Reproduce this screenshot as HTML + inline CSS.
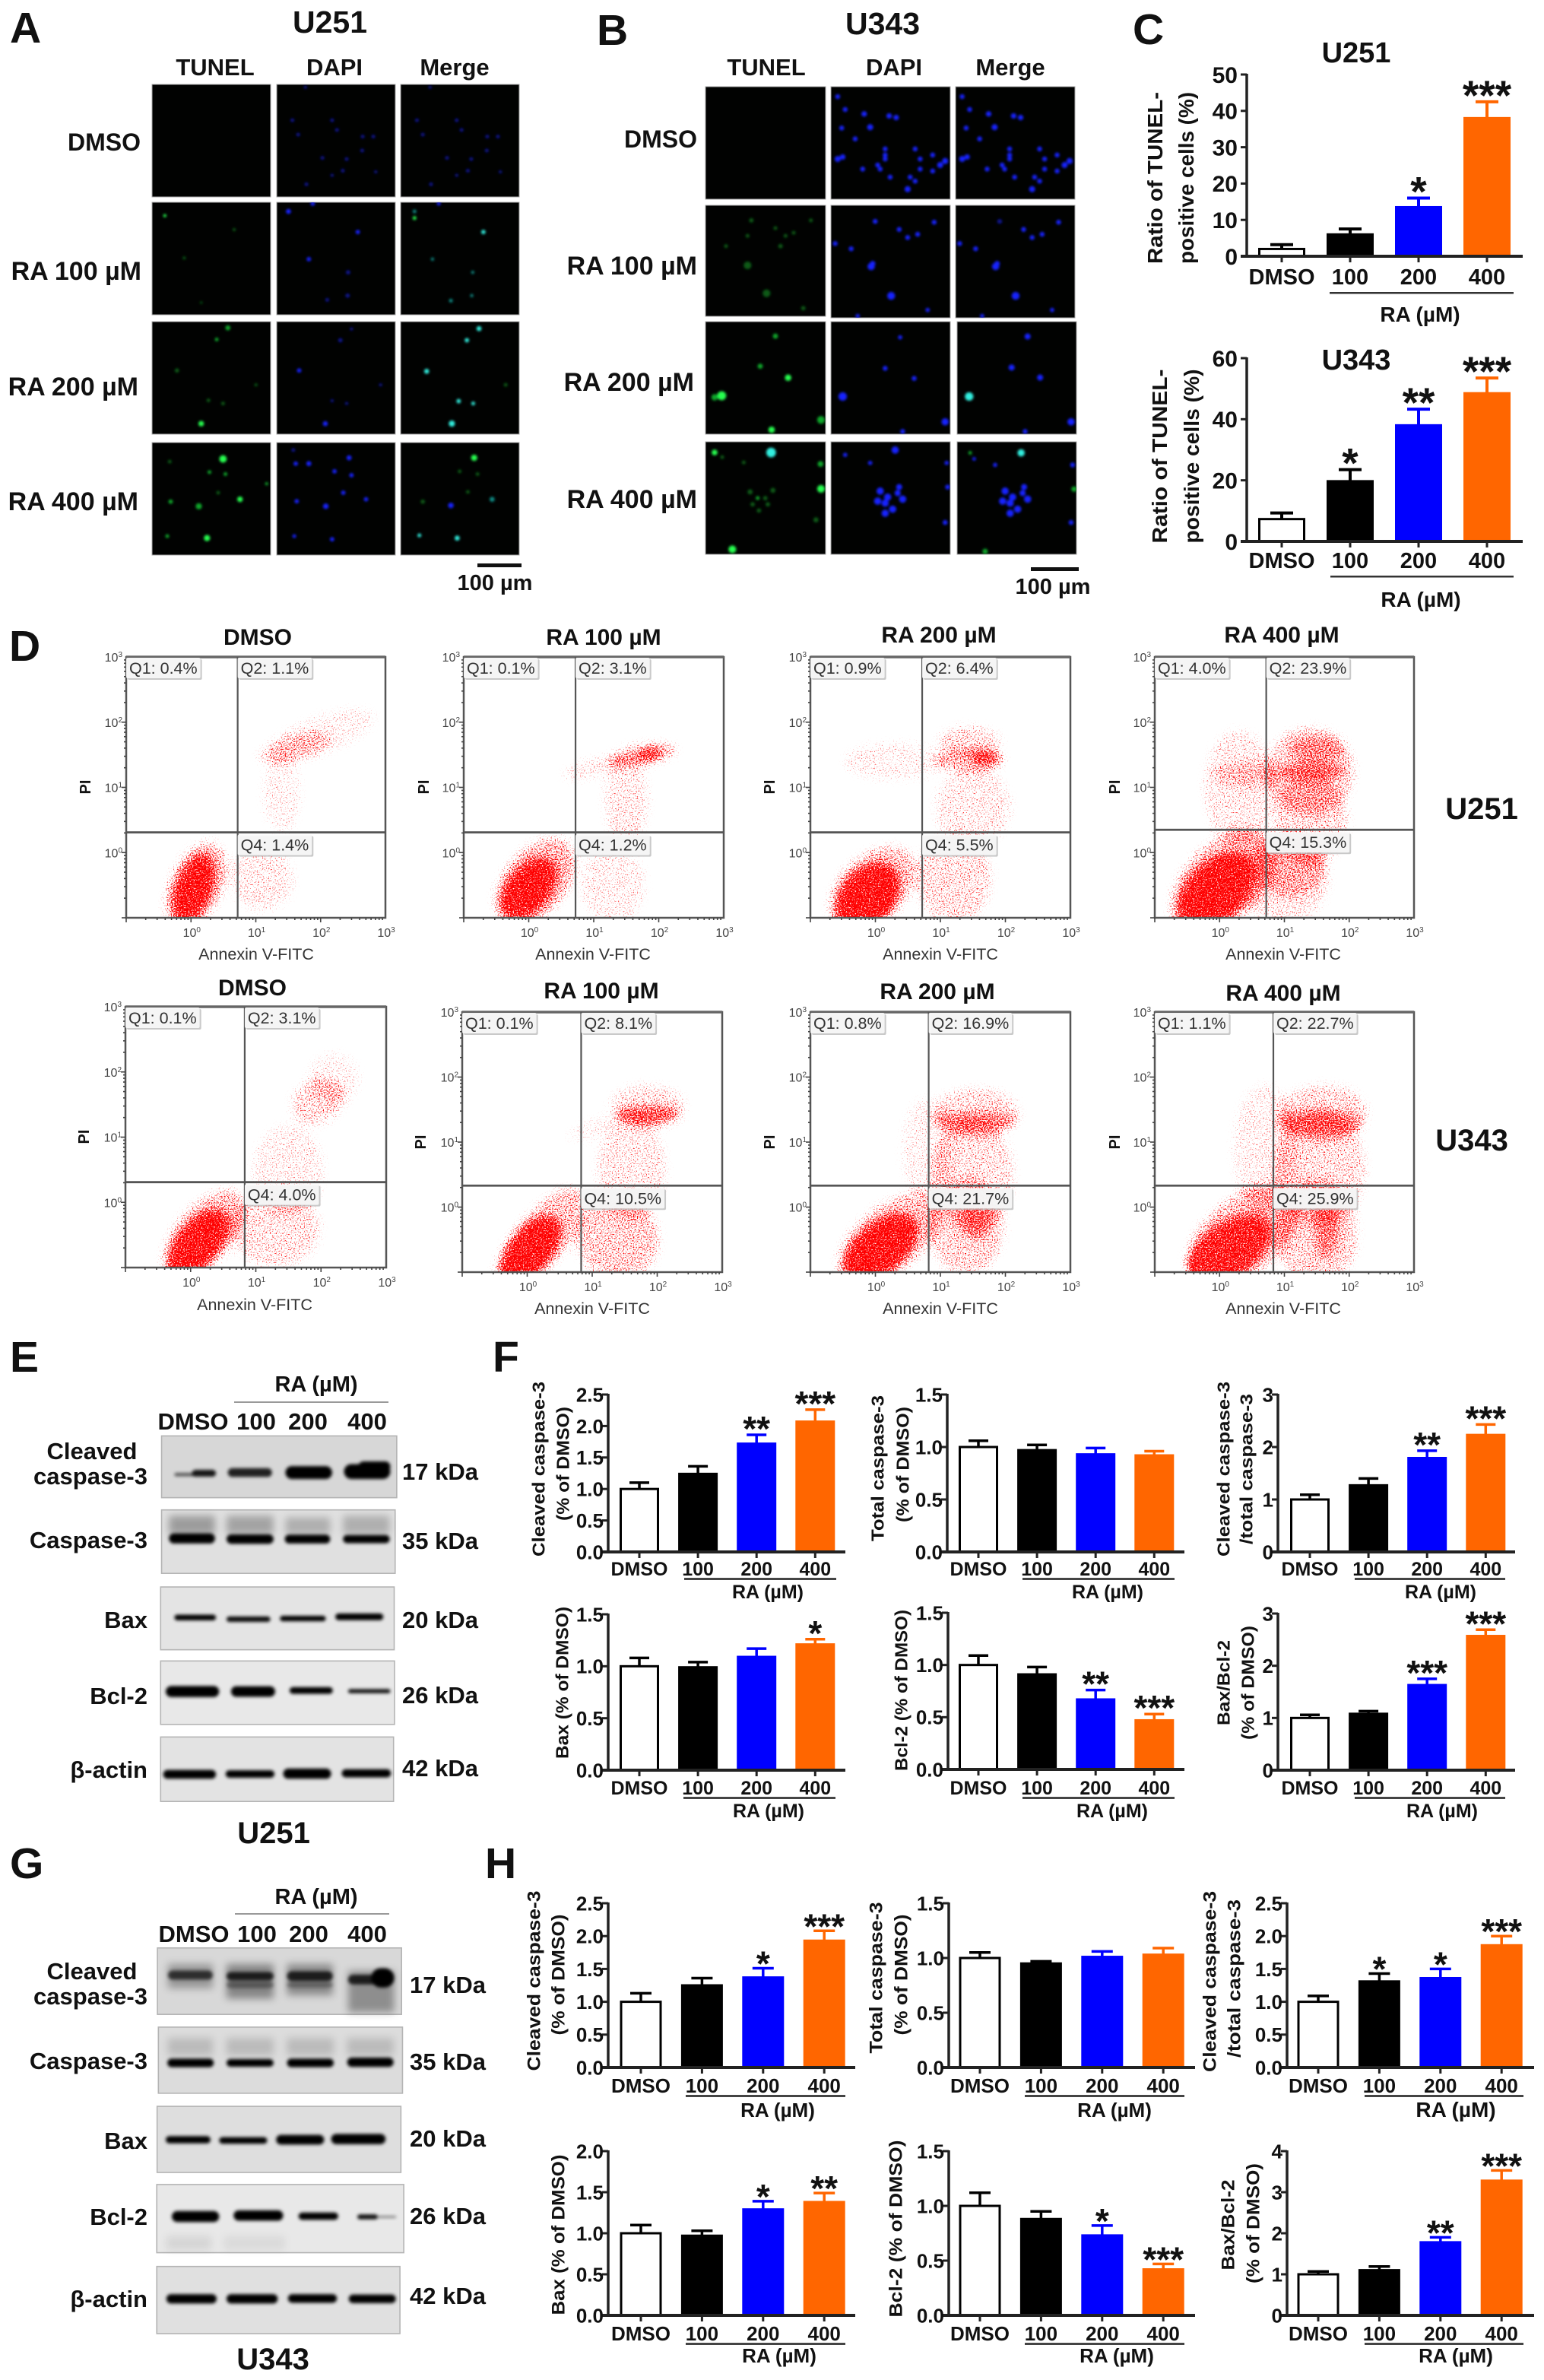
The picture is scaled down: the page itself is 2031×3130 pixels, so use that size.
<!DOCTYPE html>
<html lang="en">
<head>
<meta charset="utf-8">
<title>RA induced apoptosis figure</title>
<style>
html,body{margin:0;padding:0;background:#fff;}
svg{display:block;}
text{font-family:"Liberation Sans",Arial,sans-serif;font-weight:bold;fill:#111;}
.rt{text-anchor:end;}
.mid{text-anchor:middle;}
.gray{font-weight:normal;fill:#333;}
</style>
</head>
<body>
<svg id="figure" xmlns="http://www.w3.org/2000/svg" width="2031" height="3130" viewBox="0 0 2031 3130">
<defs>
<filter id="speckle" color-interpolation-filters="sRGB" x="-15%" y="-15%" width="130%" height="130%">
<feGaussianBlur in="SourceAlpha" stdDeviation="6" result="blurred"/>
<feComponentTransfer in="blurred" result="soft"><feFuncA type="gamma" amplitude="1" exponent="1.15" offset="0"/></feComponentTransfer>
<feTurbulence type="fractalNoise" baseFrequency="0.6" numOctaves="2" seed="7" result="noise"/>
<feColorMatrix in="noise" type="matrix" values="0 0 0 0 1  0 0 0 0 1  0 0 0 0 1  0 0 0 2.2 -0.6" result="noiseA"/>
<feComposite in="soft" in2="noiseA" operator="arithmetic" k1="0" k2="1" k3="1" k4="-1" result="mix"/>
<feComponentTransfer in="mix" result="dots"><feFuncA type="linear" slope="3"/></feComponentTransfer>
<feFlood flood-color="#ff0000"/>
<feComposite in2="dots" operator="in"/>
</filter>
<filter id="cellBlur" x="-5%" y="-5%" width="110%" height="110%"><feGaussianBlur stdDeviation="1.5"/></filter>
<filter id="bandBlur" x="-10%" y="-30%" width="120%" height="160%"><feGaussianBlur stdDeviation="2.2"/></filter>
<filter id="smearBlur" x="-10%" y="-30%" width="120%" height="160%"><feGaussianBlur stdDeviation="5"/></filter>
</defs>
<rect width="2031" height="3130" fill="#fff"/>

<!-- Panel letters -->
<g font-size="57">
<text x="13" y="56" font-size="57">A</text>
<text x="785" y="59" font-size="57">B</text>
<text x="1490" y="58" font-size="57">C</text>
<text x="12" y="869" font-size="57">D</text>
<text x="13" y="1804" font-size="57">E</text>
<text x="648" y="1804" font-size="57">F</text>
<text x="13" y="2470" font-size="57">G</text>
<text x="638" y="2470" font-size="57">H</text>
</g>

<!-- Panel A / B labels -->
<g>
<text class="mid" x="434" y="43" font-size="41">U251</text>
<text class="mid" x="283" y="99" font-size="31">TUNEL</text>
<text class="mid" x="440" y="99" font-size="31">DAPI</text>
<text class="mid" x="598" y="99" font-size="31">Merge</text>
<text class="rt" x="185" y="198" font-size="32">DMSO</text>
<text class="rt" x="186" y="368" font-size="34">RA 100 µM</text>
<text class="rt" x="182" y="520" font-size="34">RA 200 µM</text>
<text class="rt" x="182" y="671" font-size="34">RA 400 µM</text>
<rect x="628" y="741" width="58" height="5" fill="#111"/>
<text class="mid" x="651" y="776" font-size="29">100 µm</text>
</g>
<g>
<text class="mid" x="1161" y="45" font-size="41">U343</text>
<text class="mid" x="1008" y="99" font-size="31">TUNEL</text>
<text class="mid" x="1176" y="99" font-size="31">DAPI</text>
<text class="mid" x="1329" y="99" font-size="31">Merge</text>
<text class="rt" x="917" y="194" font-size="32">DMSO</text>
<text class="rt" x="917" y="361" font-size="34">RA 100 µM</text>
<text class="rt" x="913" y="514" font-size="34">RA 200 µM</text>
<text class="rt" x="917" y="668" font-size="34">RA 400 µM</text>
<rect x="1356" y="746" width="63" height="5" fill="#111"/>
<text class="mid" x="1385" y="781" font-size="29">100 µm</text>
</g>
<g id="micrographs"></g>

<!-- Panel C labels -->
<g>
<text class="mid" x="1784" y="82" font-size="38">U251</text>
<text class="mid" x="1784" y="486" font-size="38">U343</text>
<text class="mid" dy="0.36em" textLength="226" lengthAdjust="spacingAndGlyphs" transform="translate(1519,234) rotate(-90)" font-size="28">Ratio of TUNEL-</text>
<text class="mid" dy="0.36em" textLength="226" lengthAdjust="spacingAndGlyphs" transform="translate(1560,234) rotate(-90)" font-size="28">positive cells (%)</text>
<text class="mid" dy="0.36em" textLength="229" lengthAdjust="spacingAndGlyphs" transform="translate(1525,600) rotate(-90)" font-size="28">Ratio of TUNEL-</text>
<text class="mid" dy="0.36em" textLength="229" lengthAdjust="spacingAndGlyphs" transform="translate(1567,600) rotate(-90)" font-size="28">positive cells (%)</text>
<rect x="1749" y="384" width="242" height="2.5" fill="#333"/>
<rect x="1750" y="757" width="241" height="2.5" fill="#333"/>
<text class="mid" x="1868" y="423" font-size="28">RA (µM)</text>
<text class="mid" x="1869" y="798" font-size="28">RA (µM)</text>
</g>

<!-- Panel D labels -->
<g>
<text class="mid" x="339" y="848" font-size="30">DMSO</text>
<text class="mid" x="794" y="848" font-size="30">RA 100 µM</text>
<text class="mid" x="1235" y="845" font-size="30">RA 200 µM</text>
<text class="mid" x="1686" y="845" font-size="30">RA 400 µM</text>
<text class="mid" x="332" y="1309" font-size="30">DMSO</text>
<text class="mid" x="791" y="1313" font-size="30">RA 100 µM</text>
<text class="mid" x="1233" y="1314" font-size="30">RA 200 µM</text>
<text class="mid" x="1688" y="1316" font-size="30">RA 400 µM</text>
<text class="mid gray" x="337" y="1262" font-size="21.5">Annexin V-FITC</text>
<text class="mid gray" x="780" y="1262" font-size="21.5">Annexin V-FITC</text>
<text class="mid gray" x="1237" y="1262" font-size="21.5">Annexin V-FITC</text>
<text class="mid gray" x="1688" y="1262" font-size="21.5">Annexin V-FITC</text>
<text class="mid gray" x="335" y="1723" font-size="21.5">Annexin V-FITC</text>
<text class="mid gray" x="779" y="1728" font-size="21.5">Annexin V-FITC</text>
<text class="mid gray" x="1237" y="1728" font-size="21.5">Annexin V-FITC</text>
<text class="mid gray" x="1688" y="1728" font-size="21.5">Annexin V-FITC</text>
<text class="mid" fill="#333" dy="0.36em" transform="translate(112,1035) rotate(-90)" font-size="20">PI</text>
<text class="mid" dy="0.36em" transform="translate(557,1035) rotate(-90)" font-size="20">PI</text>
<text class="mid" dy="0.36em" transform="translate(1012,1035) rotate(-90)" font-size="20">PI</text>
<text class="mid" dy="0.36em" transform="translate(1466,1035) rotate(-90)" font-size="20">PI</text>
<text class="mid" dy="0.36em" transform="translate(110,1495) rotate(-90)" font-size="20">PI</text>
<text class="mid" dy="0.36em" transform="translate(553,1502) rotate(-90)" font-size="20">PI</text>
<text class="mid" dy="0.36em" transform="translate(1012,1502) rotate(-90)" font-size="20">PI</text>
<text class="mid" dy="0.36em" transform="translate(1466,1502) rotate(-90)" font-size="20">PI</text>
<text class="mid" x="1949" y="1077" font-size="40">U251</text>
<text class="mid" x="1936" y="1513" font-size="40">U343</text>
</g>
<g id="flow-plots"></g>

<!-- Western blot labels E -->
<g id="blots"></g>
<g>
<text class="mid" x="416" y="1830" font-size="29">RA (µM)</text>
<rect x="308" y="1843" width="203" height="2" fill="#999"/>
<text class="mid" x="254" y="1880" font-size="31">DMSO</text>
<text class="mid" x="337" y="1880" font-size="31">100</text>
<text class="mid" x="405" y="1880" font-size="31">200</text>
<text class="mid" x="483" y="1880" font-size="31">400</text>
<text class="mid" x="121" y="1919" font-size="31">Cleaved</text>
<text class="rt" x="194" y="1952" font-size="31">caspase-3</text>
<text class="rt" x="194" y="2036" font-size="31">Caspase-3</text>
<text class="rt" x="194" y="2141" font-size="31">Bax</text>
<text class="rt" x="194" y="2241" font-size="31">Bcl-2</text>
<text class="rt" x="194" y="2338" font-size="31">β-actin</text>
<text x="529" y="1946" font-size="31">17 kDa</text>
<text x="529" y="2037" font-size="31">35 kDa</text>
<text x="529" y="2141" font-size="31">20 kDa</text>
<text x="529" y="2240" font-size="31">26 kDa</text>
<text x="529" y="2336" font-size="31">42 kDa</text>
<text class="mid" x="360" y="2424" font-size="40">U251</text>
</g>
<!-- Western blot labels G -->
<g>
<text class="mid" x="416" y="2504" font-size="29">RA (µM)</text>
<rect x="309" y="2516" width="203" height="2" fill="#999"/>
<text class="mid" x="255" y="2554" font-size="31">DMSO</text>
<text class="mid" x="338" y="2554" font-size="31">100</text>
<text class="mid" x="406" y="2554" font-size="31">200</text>
<text class="mid" x="483" y="2554" font-size="31">400</text>
<text class="mid" x="121" y="2603" font-size="31">Cleaved</text>
<text class="rt" x="194" y="2636" font-size="31">caspase-3</text>
<text class="rt" x="194" y="2721" font-size="31">Caspase-3</text>
<text class="rt" x="194" y="2826" font-size="31">Bax</text>
<text class="rt" x="194" y="2926" font-size="31">Bcl-2</text>
<text class="rt" x="194" y="3034" font-size="31">β-actin</text>
<text x="539" y="2621" font-size="31">17 kDa</text>
<text x="539" y="2722" font-size="31">35 kDa</text>
<text x="539" y="2823" font-size="31">20 kDa</text>
<text x="539" y="2925" font-size="31">26 kDa</text>
<text x="539" y="3030" font-size="31">42 kDa</text>
<text class="mid" x="359" y="3116" font-size="40">U343</text>
</g>

<!-- Bar chart static labels F -->
<g font-size="23">
<text class="mid" font-size="23" dy="0.36em" textLength="230" lengthAdjust="spacingAndGlyphs" transform="translate(708,1932) rotate(-90)">Cleaved caspase-3</text>
<text class="mid" font-size="23" dy="0.36em" textLength="150" lengthAdjust="spacingAndGlyphs" transform="translate(740,1925) rotate(-90)">(% of DMSO)</text>
<text class="mid" font-size="23" dy="0.36em" textLength="192" lengthAdjust="spacingAndGlyphs" transform="translate(1154,1931) rotate(-90)">Total caspase-3</text>
<text class="mid" font-size="23" dy="0.36em" textLength="152" lengthAdjust="spacingAndGlyphs" transform="translate(1187,1926) rotate(-90)">(% of DMSO)</text>
<text class="mid" font-size="23" dy="0.36em" textLength="230" lengthAdjust="spacingAndGlyphs" transform="translate(1609,1932) rotate(-90)">Cleaved caspase-3</text>
<text class="mid" font-size="23" dy="0.36em" textLength="198" lengthAdjust="spacingAndGlyphs" transform="translate(1639,1932) rotate(-90)">/total caspase-3</text>
<text class="mid" font-size="23" dy="0.36em" textLength="200" lengthAdjust="spacingAndGlyphs" transform="translate(739,2213) rotate(-90)">Bax (% of DMSO)</text>
<text class="mid" font-size="23" dy="0.36em" textLength="212" lengthAdjust="spacingAndGlyphs" transform="translate(1185,2223) rotate(-90)">Bcl-2 (% of DMSO)</text>
<text class="mid" font-size="23" dy="0.36em" textLength="112" lengthAdjust="spacingAndGlyphs" transform="translate(1609,2213) rotate(-90)">Bax/Bcl-2</text>
<text class="mid" font-size="23" dy="0.36em" textLength="150" lengthAdjust="spacingAndGlyphs" transform="translate(1641,2213) rotate(-90)">(% of DMSO)</text>
<rect x="900" y="2075" width="200" height="3" fill="#444"/>
<rect x="1345" y="2075" width="200" height="3" fill="#444"/>
<rect x="1782" y="2075" width="198" height="3" fill="#444"/>
<rect x="899" y="2363" width="200" height="3" fill="#444"/>
<rect x="1345" y="2363" width="200" height="3" fill="#444"/>
<rect x="1782" y="2363" width="198" height="3" fill="#444"/>
<text class="mid" x="1010" y="2102" font-size="25">RA (µM)</text>
<text class="mid" x="1457" y="2102" font-size="25">RA (µM)</text>
<text class="mid" x="1895" y="2102" font-size="25">RA (µM)</text>
<text class="mid" x="1011" y="2390" font-size="25">RA (µM)</text>
<text class="mid" x="1463" y="2390" font-size="25">RA (µM)</text>
<text class="mid" x="1897" y="2390" font-size="25">RA (µM)</text>
</g>

<!-- Bar chart static labels H -->
<g font-size="23">
<text class="mid" font-size="24" dy="0.36em" textLength="237" lengthAdjust="spacingAndGlyphs" transform="translate(702,2605) rotate(-90)">Cleaved caspase-3</text>
<text class="mid" font-size="24" dy="0.36em" textLength="159" lengthAdjust="spacingAndGlyphs" transform="translate(734,2597) rotate(-90)">(% of DMSO)</text>
<text class="mid" font-size="24" dy="0.36em" textLength="199" lengthAdjust="spacingAndGlyphs" transform="translate(1152,2601) rotate(-90)">Total caspase-3</text>
<text class="mid" font-size="24" dy="0.36em" textLength="159" lengthAdjust="spacingAndGlyphs" transform="translate(1185,2597) rotate(-90)">(% of DMSO)</text>
<text class="mid" font-size="24" dy="0.36em" textLength="238" lengthAdjust="spacingAndGlyphs" transform="translate(1591,2606) rotate(-90)">Cleaved caspase-3</text>
<text class="mid" font-size="24" dy="0.36em" textLength="208" lengthAdjust="spacingAndGlyphs" transform="translate(1623,2602) rotate(-90)">/total caspase-3</text>
<text class="mid" font-size="24" dy="0.36em" textLength="211" lengthAdjust="spacingAndGlyphs" transform="translate(734,2939) rotate(-90)">Bax (% of DMSO)</text>
<text class="mid" font-size="24" dy="0.36em" textLength="233" lengthAdjust="spacingAndGlyphs" transform="translate(1178,2931) rotate(-90)">Bcl-2 (% of DMSO)</text>
<text class="mid" font-size="24" dy="0.36em" textLength="119" lengthAdjust="spacingAndGlyphs" transform="translate(1615,2926) rotate(-90)">Bax/Bcl-2</text>
<text class="mid" font-size="24" dy="0.36em" textLength="158" lengthAdjust="spacingAndGlyphs" transform="translate(1648,2924) rotate(-90)">(% of DMSO)</text>
<rect x="902" y="2755" width="210" height="3" fill="#444"/>
<rect x="1348" y="2755" width="210" height="3" fill="#444"/>
<rect x="1795" y="2755" width="209" height="3" fill="#444"/>
<rect x="902" y="3081" width="210" height="3" fill="#444"/>
<rect x="1348" y="3081" width="210" height="3" fill="#444"/>
<rect x="1795" y="3081" width="209" height="3" fill="#444"/>
<text class="mid" x="1023" y="2784" font-size="26">RA (µM)</text>
<text class="mid" x="1466" y="2784" font-size="26">RA (µM)</text>
<text class="mid" x="1915" y="2784" font-size="28">RA (µM)</text>
<text class="mid" x="1025" y="3107" font-size="26">RA (µM)</text>
<text class="mid" x="1469" y="3107" font-size="26">RA (µM)</text>
<text class="mid" x="1915" y="3107" font-size="26">RA (µM)</text>
</g>
<g id="bar-charts"></g>
</svg>

<script>
/* ===== Bar chart data ===== */
const doseCategories = ['DMSO', '100', '200', '400'];
const barFills = ['#ffffff', '#000000', '#0000ff', '#ff6600'];
const barStrokes = ['#000000', '#000000', '#0000ff', '#ff6600'];

const ticksC50 = ['0', '10', '20', '30', '40', '50'];
const ticksC60 = ['0', '20', '40', '60'];
const ticks25 = ['0.0', '0.5', '1.0', '1.5', '2.0', '2.5'];
const ticks20 = ['0.0', '0.5', '1.0', '1.5', '2.0'];
const ticks15 = ['0.0', '0.5', '1.0', '1.5'];
const ticks3 = ['0', '1', '2', '3'];
const ticks4 = ['0', '1', '2', '3', '4'];

const cU251Values = [2, 6, 13.5, 38];
const cU251Errors = [3.2, 7.5, 16, 42.5];
const cU251Stars = ['', '', '*', '***'];
const cU343Values = [7.3, 19.7, 38, 48.5];
const cU343Errors = [9.3, 23.5, 43.3, 53.5];
const cU343Stars = ['', '*', '**', '***'];

const f1Values = [1.0, 1.24, 1.72, 2.07];
const f1Errors = [1.1, 1.36, 1.86, 2.26];
const f1Stars = ['', '', '**', '***'];
const f2Values = [1.0, 0.97, 0.93, 0.92];
const f2Errors = [1.06, 1.02, 0.99, 0.96];
const f2Stars = ['', '', '', ''];
const f3Values = [1.0, 1.27, 1.79, 2.23];
const f3Errors = [1.09, 1.4, 1.93, 2.43];
const f3Stars = ['', '', '**', '***'];
const f4Values = [1.0, 0.99, 1.09, 1.21];
const f4Errors = [1.08, 1.04, 1.17, 1.26];
const f4Stars = ['', '', '', '*'];
const f5Values = [1.0, 0.91, 0.67, 0.47];
const f5Errors = [1.09, 0.98, 0.76, 0.53];
const f5Stars = ['', '', '**', '***'];
const f6Values = [1.0, 1.08, 1.63, 2.57];
const f6Errors = [1.06, 1.13, 1.75, 2.69];
const f6Stars = ['', '', '***', '***'];

const h1Values = [1.0, 1.25, 1.37, 1.93];
const h1Errors = [1.13, 1.36, 1.51, 2.08];
const h1Stars = ['', '', '*', '***'];
const h2Values = [1.0, 0.95, 1.01, 1.03];
const h2Errors = [1.05, 0.97, 1.06, 1.09];
const h2Stars = ['', '', '', ''];
const h3Values = [1.0, 1.31, 1.36, 1.86];
const h3Errors = [1.09, 1.43, 1.5, 2.0];
const h3Stars = ['', '*', '*', '***'];
const h4Values = [1.0, 0.97, 1.29, 1.38];
const h4Errors = [1.1, 1.03, 1.39, 1.49];
const h4Stars = ['', '', '*', '**'];
const h5Values = [1.0, 0.88, 0.73, 0.42];
const h5Errors = [1.12, 0.95, 0.82, 0.47];
const h5Stars = ['', '', '*', '***'];
const h6Values = [1.0, 1.1, 1.78, 3.28];
const h6Errors = [1.07, 1.19, 1.9, 3.53];
const h6Stars = ['', '', '**', '***'];

/* ===== Flow cytometry data: quadrant labels and estimated density regions
   region = [log10 Annexin, log10 PI, semi-major (decades), semi-minor (decades), angle deg, density] ===== */
const flowExponents = [0, 1, 2, 3];

const u251DmsoLabels = ['Q1: 0.4%', 'Q2: 1.1%', 'Q4: 1.4%'];
const u251DmsoRegions = [[0.04,-0.55,0.55,0.28,70,1],[0.08,-0.5,0.72,0.42,65,0.55],[1.6,1.6,0.6,0.2,15,0.38],[2.0,1.8,0.9,0.3,20,0.25],[1.4,0.9,0.3,0.6,0,0.25],[1.1,-0.4,0.5,0.5,0,0.3]];
const u251R100Labels = ['Q1: 0.1%', 'Q2: 3.1%', 'Q4: 1.2%'];
const u251R100Regions = [[0,-0.55,0.55,0.33,50,1],[0.1,-0.45,0.8,0.5,50,0.55],[1.75,1.5,0.55,0.17,10,0.55],[1.85,1.5,0.2,0.12,10,0.75],[1.0,1.3,0.5,0.15,15,0.3],[1.5,0.8,0.35,0.7,0,0.32],[1.3,-0.5,0.5,0.6,0,0.28]];
const u251R200Labels = ['Q1: 0.9%', 'Q2: 6.4%', 'Q4: 5.5%'];
const u251R200Regions = [[-0.12,-0.68,0.6,0.42,50,1],[-0.05,-0.55,0.8,0.52,45,0.5],[1.45,1.42,0.55,0.2,0,0.5],[1.45,1.7,0.5,0.25,0,0.38],[1.7,1.45,0.22,0.12,0,0.75],[0.3,1.4,0.8,0.3,0,0.25],[1.5,0.7,0.6,0.6,0,0.3],[1.2,-0.4,0.6,0.7,0,0.38]];
const u251R400Labels = ['Q1: 4.0%', 'Q2: 23.9%', 'Q4: 15.3%'];
const u251R400Regions = [[-0.05,-0.58,0.72,0.45,45,1],[0.05,-0.45,1.0,0.62,45,0.5],[1.4,1.25,0.7,0.7,0,0.42],[1.45,1.25,0.5,0.15,0,0.6],[1.5,1.6,0.45,0.2,0,0.45],[1.4,0.5,0.6,0.7,0,0.38],[0.3,1.0,0.55,0.9,0,0.32],[0.5,1.2,0.6,0.2,0,0.32],[1.1,-0.2,0.55,0.5,0,0.4],[1.0,-0.4,0.7,0.7,0,0.32]];
const u343DmsoLabels = ['Q1: 0.1%', 'Q2: 3.1%', 'Q4: 4.0%'];
const u343DmsoRegions = [[0.12,-0.62,0.62,0.33,50,1],[0.2,-0.5,0.85,0.45,50,0.5],[1.3,-0.4,0.7,0.6,0,0.36],[1.95,1.55,0.45,0.35,30,0.4],[1.5,0.5,0.55,0.7,0,0.28],[2.2,1.9,0.4,0.4,50,0.24]];
const u343R100Labels = ['Q1: 0.1%', 'Q2: 8.1%', 'Q4: 10.5%'];
const u343R100Regions = [[0.05,-0.65,0.62,0.33,50,1],[0.2,-0.5,1.0,0.42,50,0.5],[1.4,-0.5,0.65,0.65,0,0.45],[1.85,1.42,0.5,0.15,0,0.7],[1.85,1.55,0.6,0.35,0,0.35],[1.6,0.6,0.55,0.8,0,0.32],[1.0,1.2,0.4,0.15,20,0.22]];
const u343R200Labels = ['Q1: 0.8%', 'Q2: 16.9%', 'Q4: 21.7%'];
const u343R200Regions = [[0.08,-0.62,0.68,0.38,40,1],[0.2,-0.5,0.95,0.52,40,0.5],[1.4,-0.3,0.6,0.75,0,0.42],[1.55,-0.2,0.25,0.3,0,0.5],[1.55,1.32,0.65,0.15,0,0.55],[1.55,1.45,0.68,0.4,0,0.38],[1.5,0.5,0.65,0.85,0,0.36],[0.8,0.9,0.4,0.8,0,0.25]];
const u343R400Labels = ['Q1: 1.1%', 'Q2: 22.7%', 'Q4: 25.9%'];
const u343R400Regions = [[0.15,-0.65,0.75,0.42,35,0.9],[0.35,-0.45,1.05,0.6,40,0.5],[1.5,-0.4,0.65,0.85,0,0.42],[1.65,-0.3,0.2,0.5,0,0.5],[1.55,1.3,0.7,0.2,0,0.5],[1.6,1.45,0.7,0.45,0,0.4],[1.55,0.6,0.72,0.9,0,0.38],[0.7,0.9,0.5,1.0,0,0.28]];

/* ===== Micrograph bright spots, in measured image coordinates ===== */
const spotColors = {b:'#1422ff', d:'#0a1290', g:'#28ff50', m:'#0fa82a', l:'#075a14', c:'#30f0e0', t:'#0b8f88'};
const panelASpots = [
 [603,310,3,'d'],[685,310,3,'d'],[695,335,3,'d'],[615,347,3,'d'],[748,352,3,'d'],[770,352,3,'d'],[747,388,3,'d'],[665,407,3,'d'],[715,410,3,'d'],[707,440,3,'d'],[775,443,2.5,'d'],[685,452,2.5,'d'],[632,475,3,'d'],[630,225,2.5,'d'],
 [860,310,3,'d'],[942,310,3,'d'],[952,335,3,'d'],[872,347,3,'d'],[1005,352,3,'d'],[1027,352,3,'d'],[1004,388,3,'d'],[922,407,3,'d'],[972,410,3,'d'],[965,440,3,'d'],[1032,443,2.5,'d'],[942,452,2.5,'d'],[889,475,3,'d'],[887,225,2.5,'d'],
 [340,556,2.5,'g'],[483,592,2.5,'l'],[380,665,2.5,'l'],[415,780,2,'l'],
 [595,545,4,'b'],[645,525,3.5,'b'],[738,598,3.5,'b'],[637,668,3.5,'b'],[718,702,3.5,'d'],[717,762,3.5,'d'],[675,773,3,'d'],
 [855,545,3,'t'],[855,562,3,'g'],[997,598,3.5,'c'],[892,668,2.5,'t'],[975,702,2.5,'t'],[973,762,2.5,'t'],[930,775,3,'t'],[905,525,3,'b'],
 [470,845,4,'m'],[447,875,3,'m'],[365,955,3.5,'l'],[430,1032,3,'l'],[460,1040,3,'l'],[415,1092,4.5,'g'],[528,992,2.5,'l'],
 [725,848,2.5,'d'],[702,877,3.5,'d'],[617,955,3.5,'b'],[785,992,2.5,'d'],[685,1033,2.5,'d'],[715,1040,2.5,'d'],[671,1092,4,'b'],
 [988,847,4,'c'],[963,877,3.5,'c'],[880,957,4,'c'],[1043,992,3,'l'],[946,1034,3.5,'c'],[976,1040,3,'c'],[932,1092,5,'c'],
 [460,1183,6,'g'],[432,1217,3,'m'],[465,1222,3,'m'],[352,1293,3.5,'m'],[410,1305,5,'m'],[495,1287,4.5,'g'],[450,1270,3,'l'],[345,1382,3,'m'],[427,1387,5,'g'],[550,1247,2.5,'m'],[350,1190,3,'l'],
 [605,1160,3,'d'],[610,1195,3.5,'b'],[637,1195,4,'b'],[720,1180,4,'b'],[690,1215,3.5,'b'],[725,1225,3.5,'b'],[708,1270,3.5,'b'],[755,1287,3.5,'b'],[612,1292,3.5,'b'],[672,1305,4.5,'b'],[607,1382,3,'b'],[685,1390,3.5,'b'],
 [978,1180,5,'g'],[948,1215,3,'l'],[985,1222,3,'l'],[872,1293,3.5,'l'],[930,1303,4.5,'b'],[1015,1287,4,'t'],[965,1268,3,'l'],[865,1380,3,'c'],[943,1387,4,'c']
];
const panelBTunelSpots = [
 [205,465,3.5,'l'],[190,515,3,'l'],[300,490,3,'l'],[340,515,3,'l'],[372,505,3,'l'],[320,548,3.5,'l'],[190,610,6,'l'],[265,700,6,'l'],[105,548,3,'l'],[440,465,3,'l'],[410,748,3.5,'l'],
 [88,1030,7,'g'],[60,1035,5,'m'],[300,838,4,'m'],[240,935,4,'m'],[350,972,5,'g'],[285,1140,5,'g'],[480,1108,6,'m'],
 [60,1213,4.5,'g'],[283,1213,7.5,'c'],[478,1250,4.5,'m'],[480,1330,6,'g'],[130,1525,6,'g'],[175,1245,3,'l'],[460,1430,4,'l'],
 [200,1340,4,'l'],[230,1360,3,'m'],[260,1360,3.5,'l'],[290,1335,4,'l'],[210,1380,3.5,'l'],[270,1380,3.5,'l'],[235,1400,3.5,'l'],[90,1228,3,'l']
];
const panelBDapiSpots = [
 [155,240,4,'b'],[170,272,4,'b'],[208,283,4.5,'b'],[258,288,4.5,'b'],[272,292,4.5,'b'],[163,318,4,'b'],[220,316,5,'b'],[190,345,4,'b'],[250,370,4,'b'],[155,395,5,'b'],[165,390,4.5,'b'],[250,395,4,'b'],[235,410,4,'b'],[205,420,4,'b'],[310,370,4,'b'],[320,395,4,'b'],[345,385,4,'b'],[360,410,5,'b'],[370,400,5,'b'],[320,420,4,'b'],[300,440,4,'b'],[345,425,4,'b'],[260,440,4,'b'],[295,470,5,'b'],[310,450,4,'b'],[240,420,4,'b'],[250,385,4,'b'],
 [404,240,4,'b'],[419,272,4,'b'],[457,283,4.5,'b'],[507,288,4.5,'b'],[521,292,4.5,'b'],[412,318,4,'b'],[469,316,5,'b'],[439,345,4,'b'],[499,370,4,'b'],[404,395,5,'b'],[414,390,4.5,'b'],[499,395,4,'b'],[484,410,4,'b'],[454,420,4,'b'],[559,370,4,'b'],[569,395,4,'b'],[594,385,4,'b'],[609,410,5,'b'],[619,400,5,'b'],[569,420,4,'b'],[549,440,4,'b'],[594,425,4,'b'],[509,440,4,'b'],[544,470,5,'b'],[559,450,4,'b'],[489,420,4,'b'],[499,385,4,'b'],
 [230,550,4,'b'],[348,552,4,'b'],[278,570,4,'b'],[315,582,4,'b'],[295,590,4,'b'],[150,605,4,'b'],[182,618,4,'b'],[222,662,6,'b'],[262,735,6.5,'b'],[335,770,3.5,'b'],[195,785,3.5,'b'],[225,655,4.5,'b'],
 [479,550,4,'d'],[597,552,4,'b'],[527,570,4,'b'],[564,582,4,'b'],[544,590,4,'b'],[399,605,4,'b'],[431,618,4,'b'],[471,662,6,'b'],[511,735,6.5,'b'],[584,770,3.5,'b'],[444,785,3.5,'b'],[474,655,4.5,'b'],
 [280,838,3.5,'b'],[250,915,4,'b'],[308,940,4,'b'],[165,985,7,'b'],[370,1048,6,'b'],[285,1072,4,'b'],
 [535,836,5,'b'],[503,913,5,'b'],[560,938,5,'b'],[418,985,7,'c'],[622,1048,6,'b'],[530,1072,4,'b'],
 [170,1130,3.5,'b'],[220,1150,3.5,'b'],[270,1118,6,'b'],[373,1150,3.5,'b'],[375,1210,4,'b'],[370,1298,4,'b'],[240,1220,6,'b'],[278,1210,5,'b'],[285,1240,6,'b'],[250,1250,6,'b'],[235,1245,6,'b'],[265,1265,6,'b'],[250,1275,6,'b'],[275,1225,5,'b'],[255,1235,6,'b'],
 [420,1125,3,'m'],[428,1140,3,'b'],[470,1155,3.5,'b'],[522,1125,6,'c'],[625,1155,4,'b'],[628,1215,4.5,'m'],[622,1298,4,'b'],[450,1370,4.5,'m'],[490,1220,6,'b'],[528,1210,5,'b'],[535,1240,6,'b'],[500,1250,6,'b'],[485,1245,6,'b'],[515,1265,6,'b'],[500,1275,6,'b'],[525,1225,5,'b'],[505,1235,6,'b']
];

/* ===== Western-blot bands (measured image coordinates): x1,x2,y,thickness,opacity ===== */
const blotEFrames = [[505,1240,310,492,'#d7d7d7'],[505,1235,528,715,'#e0e0e0'],[502,1232,755,940,'#e4e4e4'],[502,1233,973,1160,'#e8e8e8'],[502,1230,1197,1387,'#e3e3e3']];
const blotESmears = [[528,672,545,600,0.3],[708,855,545,600,0.27],[892,1032,550,600,0.22],[1072,1218,545,600,0.22]];
const blotEBands = [[545,610,424,10,0.6],[600,675,420,20,0.9],[712,850,418,26,0.85],[892,1038,418,38,1],[1075,1220,415,44,1],[1120,1220,400,30,1],
 [528,672,612,30,1],[708,855,614,28,1],[890,1032,614,26,1],[1072,1218,614,24,1],
 [545,675,845,17,1],[708,845,850,16,0.95],[875,1018,848,16,1],[1048,1198,843,20,1],
 [518,685,1063,33,1],[722,860,1063,31,1],[905,1040,1060,20,1],[1088,1220,1062,12,0.95],
 [510,675,1307,26,1],[705,858,1306,22,1],[885,1035,1305,30,1],[1068,1222,1304,24,1]];
const blotGFrames = [[492,1255,313,506,'#d8d8d8'],[495,1258,543,735,'#dcdcdc'],[491,1253,773,965,'#dedede'],[490,1262,1000,1198,'#e8e8e8'],[490,1250,1238,1433,'#e0e0e0']];
const blotGSmears = [[525,665,360,430,0.3],[708,855,360,460,0.38],[897,1040,360,450,0.36],[1088,1232,380,500,0.34],[525,665,575,625,0.15],[708,855,575,625,0.15],[897,1043,575,625,0.15],[1085,1230,575,625,0.15],[700,890,1150,1190,0.06],[520,660,1150,1190,0.08]];
const blotGBands = [[525,665,392,26,0.7],[708,855,395,24,0.8],[708,855,420,20,0.35],[897,1040,395,28,0.8],[897,1040,420,16,0.3],[1088,1180,405,28,0.8],[1160,1232,400,56,1],
 [523,668,647,25,1],[708,855,647,22,1],[897,1043,647,25,1],[1085,1230,645,27,1],
 [518,658,870,21,1],[685,835,872,19,1],[863,1013,870,28,1],[1035,1205,868,30,1],
 [537,685,1093,32,1],[730,885,1090,30,1],[933,1057,1092,21,1],[1117,1180,1094,14,0.95],[1170,1238,1094,5,0.55],
 [520,677,1332,27,1],[708,868,1332,27,1],[900,1053,1331,25,1],[1090,1237,1332,25,1]];

/* ===== Helpers ===== */
const SVGNS = 'http://www.w3.org/2000/svg';
function el(parent, tag, attrs, text) {
  const node = document.createElementNS(SVGNS, tag);
  for (const k in attrs) node.setAttribute(k, attrs[k]);
  if (text !== undefined) node.textContent = text;
  parent.appendChild(node);
  return node;
}
function named(node, name) {
  
  
  return node;
}

/* ===== Bar chart ===== */
function drawBarChart(id, layout, values, errors, tickLabels, stars) {
  const g = named(el(document.getElementById('bar-charts'), 'g', {}), id);
  const maxV = parseFloat(tickLabels[tickLabels.length - 1]);
  const yScale = v => layout.yBase - (v / maxV) * (layout.yBase - layout.yTop);
  const xBand = i => layout.first + i * layout.step;
  const axisColor = '#222';

  values.forEach((v, i) => {
    const cx = xBand(i);
    const errGroup = named(el(g, 'g', {stroke: barStrokes[i], 'stroke-width': layout.errW}), id + '-error-' + doseCategories[i]);
    el(errGroup, 'line', {x1: cx, x2: cx, y1: yScale(v), y2: yScale(errors[i])});
    el(errGroup, 'line', {x1: cx - layout.capW / 2, x2: cx + layout.capW / 2, y1: yScale(errors[i]), y2: yScale(errors[i])});
    const top = yScale(v);
    const bar = el(g, 'rect', {x: cx - layout.barW / 2 + 1.5, y: top, width: layout.barW - 3, height: layout.yBase - top, fill: barFills[i], stroke: barStrokes[i], 'stroke-width': 3});
    named(bar, id + '-bar-' + doseCategories[i]);
    if (stars[i]) {
      const starY = yScale(errors[i]) - layout.starGap + 0.565 * layout.starFont;
      const star = el(g, 'text', {x: cx, y: starY, 'text-anchor': 'middle', 'font-size': layout.starFont}, stars[i]);
      named(star, id + '-significance-' + doseCategories[i]);
    }
    const tick = el(g, 'line', {x1: cx, x2: cx, y1: layout.yBase, y2: layout.yBase + 8, stroke: axisColor, 'stroke-width': 3});
    named(tick, id + '-x-tick-' + doseCategories[i]);
    const cat = el(g, 'text', {x: cx, y: layout.catY, 'text-anchor': 'middle', 'font-size': layout.catFont}, doseCategories[i]);
    named(cat, id + '-x-label-' + doseCategories[i]);
  });

  const yAxis = el(g, 'line', {x1: layout.axisX, x2: layout.axisX, y1: layout.yTop - 1, y2: layout.yBase, stroke: axisColor, 'stroke-width': 3.5});
  named(yAxis, id + '-y-axis');
  const xAxis = el(g, 'line', {x1: layout.axisX - 8, x2: layout.baseEnd, y1: layout.yBase, y2: layout.yBase, stroke: axisColor, 'stroke-width': 4});
  named(xAxis, id + '-x-axis');

  tickLabels.forEach(lbl => {
    const v = parseFloat(lbl);
    const y = yScale(v);
    const tick = el(g, 'line', {x1: layout.axisX - 8, x2: layout.axisX, y1: y, y2: y, stroke: axisColor, 'stroke-width': 3});
    named(tick, id + '-y-tick-' + lbl);
    const t = el(g, 'text', {x: layout.axisX - layout.tickGap, y: y + 0.36 * layout.tickFont, 'text-anchor': 'end', 'font-size': layout.tickFont}, lbl);
    named(t, id + '-y-label-' + lbl);
  });
}

const cBase = {axisX: 1640, baseEnd: 2003, first: 1686, step: 90, barW: 62, capW: 30, errW: 4, tickGap: 12, tickFont: 30, catFont: 29, starGap: 21, starFont: 55};
drawBarChart('chart-c-u251', Object.assign({}, cBase, {yTop: 98, yBase: 337, catY: 374}), cU251Values, cU251Errors, ticksC50, cU251Stars);
drawBarChart('chart-c-u343', Object.assign({}, cBase, {yTop: 471, yBase: 712, catY: 747}), cU343Values, cU343Errors, ticksC60, cU343Stars);

const fBase = {step: 77.1, barW: 52, capW: 26, errW: 3.5, tickGap: 6, tickFont: 26, catFont: 25, starGap: 18, starFont: 46};
drawBarChart('chart-f1', Object.assign({}, fBase, {axisX: 800, baseEnd: 1112, first: 841, yTop: 1834, yBase: 2041, catY: 2072}), f1Values, f1Errors, ticks25, f1Stars);
drawBarChart('chart-f2', Object.assign({}, fBase, {axisX: 1246, baseEnd: 1558, first: 1287, yTop: 1834, yBase: 2041, catY: 2072}), f2Values, f2Errors, ticks15, f2Stars);
drawBarChart('chart-f3', Object.assign({}, fBase, {axisX: 1681, baseEnd: 1993, first: 1723, yTop: 1834, yBase: 2041, catY: 2072}), f3Values, f3Errors, ticks3, f3Stars);
drawBarChart('chart-f4', Object.assign({}, fBase, {axisX: 800, baseEnd: 1112, first: 841, yTop: 2123, yBase: 2328, catY: 2360}), f4Values, f4Errors, ticks15, f4Stars);
drawBarChart('chart-f5', Object.assign({}, fBase, {axisX: 1247, baseEnd: 1558, first: 1287, yTop: 2121, yBase: 2327, catY: 2360}), f5Values, f5Errors, ticks15, f5Stars);
drawBarChart('chart-f6', Object.assign({}, fBase, {axisX: 1681, baseEnd: 1993, first: 1723, yTop: 2122, yBase: 2328, catY: 2360}), f6Values, f6Errors, ticks3, f6Stars);

const hBase = {step: 80.4, barW: 55, capW: 28, errW: 3.5, tickGap: 6, tickFont: 26, catFont: 26, starGap: 16, starFont: 46};
drawBarChart('chart-h1', Object.assign({}, hBase, {axisX: 800, baseEnd: 1125, first: 843, yTop: 2503, yBase: 2719, catY: 2752}), h1Values, h1Errors, ticks25, h1Stars);
drawBarChart('chart-h2', Object.assign({}, hBase, {axisX: 1248, baseEnd: 1572, first: 1289, yTop: 2503, yBase: 2719, catY: 2752}), h2Values, h2Errors, ticks15, h2Stars);
drawBarChart('chart-h3', Object.assign({}, hBase, {axisX: 1693, baseEnd: 2018, first: 1734, yTop: 2503, yBase: 2719, catY: 2752}), h3Values, h3Errors, ticks25, h3Stars);
drawBarChart('chart-h4', Object.assign({}, hBase, {axisX: 800, baseEnd: 1125, first: 843, yTop: 2829, yBase: 3045, catY: 3078}), h4Values, h4Errors, ticks20, h4Stars);
drawBarChart('chart-h5', Object.assign({}, hBase, {axisX: 1248, baseEnd: 1572, first: 1289, yTop: 2829, yBase: 3045, catY: 3078}), h5Values, h5Errors, ticks15, h5Stars);
drawBarChart('chart-h6', Object.assign({}, hBase, {axisX: 1693, baseEnd: 2018, first: 1734, yTop: 2829, yBase: 3045, catY: 3078}), h6Values, h6Errors, ticks4, h6Stars);

/* ===== Flow plots ===== */
let flowCount = 0;
function drawFlow(id, box, gateX, gateY, labels, regions) {
  const g = named(el(document.getElementById('flow-plots'), 'g', {}), id);
  const dec = (box.x1 - box.x0) / 4;
  const xScale = v => box.x0 + (v + 1) * dec;
  const yScale = v => box.y1 - (v + 1) * (box.y1 - box.y0) / 4;
  const clipId = 'flow-clip-' + (flowCount++);
  const defs = el(g, 'defs', {});
  const clip = el(defs, 'clipPath', {id: clipId});
  el(clip, 'rect', {x: box.x0, y: box.y0, width: box.x1 - box.x0, height: box.y1 - box.y0});

  const clipG = el(g, 'g', {'clip-path': 'url(#' + clipId + ')'});
  const cloud = named(el(clipG, 'g', {filter: 'url(#speckle)'}), id + '-events');
  regions.forEach((r, i) => {
    const cx = xScale(r[0]), cy = yScale(r[1]);
    const region = el(cloud, 'ellipse', {cx: cx, cy: cy, rx: r[2] * dec, ry: r[3] * dec, transform: 'rotate(' + (-r[4]) + ' ' + cx + ' ' + cy + ')', fill: '#f00', 'fill-opacity': r[5]});
    named(region, id + '-density-region-' + i);
  });

  const frame = el(g, 'rect', {x: box.x0, y: box.y0, width: box.x1 - box.x0, height: box.y1 - box.y0, fill: 'none', stroke: '#555', 'stroke-width': 2.5});
  named(frame, id + '-frame');
  const topLine = el(g, 'line', {x1: box.x0, x2: box.x1, y1: box.y0, y2: box.y0, stroke: '#666', 'stroke-width': 3.5});
  named(topLine, id + '-top-border');
  const gv = el(g, 'line', {x1: xScale(gateX), x2: xScale(gateX), y1: box.y0, y2: box.y1, stroke: '#555', 'stroke-width': 2.2});
  named(gv, id + '-gate-vertical');
  const gh = el(g, 'line', {x1: box.x0, x2: box.x1, y1: yScale(gateY), y2: yScale(gateY), stroke: '#555', 'stroke-width': 2.8});
  named(gh, id + '-gate-horizontal');

  const ticks = named(el(g, 'g', {stroke: '#444', 'stroke-width': 1.6}), id + '-ticks');
  for (let d = -1; d < 3; d++) {
    for (let k = 1; k < 10; k++) {
      const lv = d + Math.log10(k);
      const len = k === 1 ? 6 : 3;
      el(ticks, 'line', {x1: xScale(lv), x2: xScale(lv), y1: box.y1, y2: box.y1 + len});
      el(ticks, 'line', {x1: box.x0 - len, x2: box.x0, y1: yScale(lv), y2: yScale(lv)});
    }
  }
  flowExponents.forEach(e => {
    const xt = el(g, 'text', {x: xScale(e) + 1, y: box.y1 + 25, 'text-anchor': 'middle', 'font-size': 16, style: 'font-weight:normal;fill:#444'}, '10');
    named(xt, id + '-x-tick-label-' + e);
    el(xt, 'tspan', {dy: -6, 'font-size': 10}, String(e));
    const yt = el(g, 'text', {x: box.x0 - 5, y: yScale(e) + 6, 'text-anchor': 'end', 'font-size': 16, style: 'font-weight:normal;fill:#444'}, '10');
    named(yt, id + '-y-tick-label-' + e);
    el(yt, 'tspan', {dy: -6, 'font-size': 10}, String(e));
  });

  const anchors = [[box.x0, box.y0 + 1], [xScale(gateX), box.y0 + 1], [xScale(gateX), yScale(gateY) + 3]];
  labels.forEach((lbl, i) => {
    const lg = named(el(g, 'g', {}), id + '-quadrant-label-' + lbl.slice(0, 2));
    const shadow = el(lg, 'rect', {x: anchors[i][0] + 2, y: anchors[i][1] + 2, width: 10, height: 27, fill: '#bbb', opacity: 0.8, rx: 2});
    const bg = el(lg, 'rect', {x: anchors[i][0], y: anchors[i][1], width: 10, height: 27, fill: '#f8f8f8', opacity: 0.92, rx: 2});
    const t = el(lg, 'text', {x: anchors[i][0] + 4, y: anchors[i][1] + 21, 'font-size': 21.5, style: 'font-weight:normal;fill:#333'}, lbl);
    const w = t.getComputedTextLength() + 8;
    shadow.setAttribute('width', w);
    bg.setAttribute('width', w);
  });
}
drawFlow('flow-u251-dmso', {x0:166,x1:507,y0:864,y1:1207}, 0.72, 0.31, u251DmsoLabels, u251DmsoRegions);
drawFlow('flow-u251-100', {x0:610,x1:952,y0:864,y1:1207}, 0.72, 0.31, u251R100Labels, u251R100Regions);
drawFlow('flow-u251-200', {x0:1066,x1:1408,y0:864,y1:1207}, 0.72, 0.31, u251R200Labels, u251R200Regions);
drawFlow('flow-u251-400', {x0:1519,x1:1860,y0:864,y1:1207}, 0.72, 0.35, u251R400Labels, u251R400Regions);
drawFlow('flow-u343-dmso', {x0:165,x1:508,y0:1324,y1:1667}, 0.83, 0.31, u343DmsoLabels, u343DmsoRegions);
drawFlow('flow-u343-100', {x0:608,x1:950,y0:1331,y1:1673}, 0.83, 0.33, u343R100Labels, u343R100Regions);
drawFlow('flow-u343-200', {x0:1066,x1:1408,y0:1331,y1:1673}, 0.82, 0.33, u343R200Labels, u343R200Regions);
drawFlow('flow-u343-400', {x0:1519,x1:1860,y0:1331,y1:1673}, 0.83, 0.33, u343R400Labels, u343R400Regions);

/* ===== Micrographs ===== */
(function () {
  const root = document.getElementById('micrographs');
  const panels = [];
  const colA = [200, 364, 527], rowA = [111, 266, 423, 582];
  colA.forEach(x => rowA.forEach(y => panels.push([x, y, 156, 148])));
  const rowB = [114, 270, 423, 581];
  rowB.forEach((y, i) => {
    panels.push([928, y, 158, i === 1 ? 146 : 148]);
    panels.push([1093, y, 157, 148]);
    panels.push([1257 + (i > 1 ? 2 : 0), y, 157, 148]);
  });
  const defs = el(root, 'defs', {});
  const clip = el(defs, 'clipPath', {id: 'micro-clip'});
  panels.forEach((p, i) => {
    const r = el(root, 'rect', {x: p[0], y: p[1], width: p[2], height: p[3], fill: '#010201', stroke: '#aaa', 'stroke-width': 1});
    named(r, 'micrograph-' + i);
    el(clip, 'rect', {x: p[0], y: p[1], width: p[2], height: p[3]});
  });
  const clipped = el(root, 'g', {'clip-path': 'url(#micro-clip)'});
  const layer = named(el(clipped, 'g', {filter: 'url(#cellBlur)'}), 'fluorescent-cells');
  function spots(list, sx, sy, ox, oy, rScale) {
    list.forEach(s => {
      el(layer, 'circle', {cx: ox + s[0] / sx, cy: oy + s[1] / sy, r: s[2] * rScale, fill: spotColors[s[3]]});
    });
  }
  spots(panelASpots, 1.568, 1.96, 0, 0, 0.82);
  spots(panelBTunelSpots, 3, 2.45, 920, 100, 0.85);
  spots(panelBDapiSpots, 1.521, 1.889, 1000, 0, 0.8);
})();

/* ===== Western blots ===== */
function drawBlots(id, frames, smears, bands, oy, sy) {
  const g = named(el(document.getElementById('blots'), 'g', {}), id);
  const sx = 2.376;
  frames.forEach((f, i) => {
    const r = el(g, 'rect', {x: f[0] / sx, y: oy + f[2] / sy, width: (f[1] - f[0]) / sx, height: (f[3] - f[2]) / sy, fill: f[4], stroke: '#b4b4b4', 'stroke-width': 1.6});
    named(r, id + '-membrane-' + i);
  });
  const sl = named(el(g, 'g', {filter: 'url(#smearBlur)'}), id + '-smears');
  smears.forEach(s => {
    el(sl, 'rect', {x: s[0] / sx, y: oy + s[2] / sy, width: (s[1] - s[0]) / sx, height: (s[3] - s[2]) / sy, fill: '#000', opacity: s[4]});
  });
  const bl = named(el(g, 'g', {filter: 'url(#bandBlur)'}), id + '-bands');
  bands.forEach(b => {
    const th = b[3] / sy;
    el(bl, 'rect', {x: b[0] / sx, y: oy + b[2] / sy - th / 2, width: (b[1] - b[0]) / sx, height: th, rx: th / 2, fill: '#050505', opacity: b[4]});
  });
}
drawBlots('blot-e', blotEFrames, blotESmears, blotEBands, 1750, 2.24);
drawBlots('blot-g', blotGFrames, blotGSmears, blotGBands, 2420, 2.208);
</script>
</body>
</html>
